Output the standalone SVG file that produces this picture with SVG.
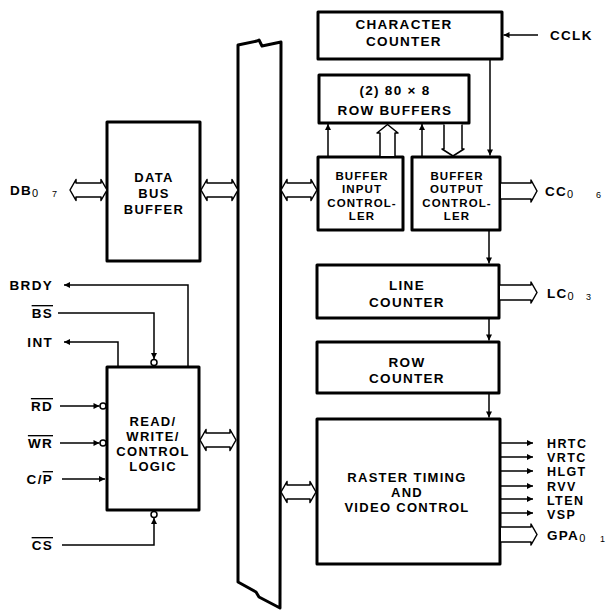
<svg xmlns="http://www.w3.org/2000/svg" width="607" height="611" viewBox="0 0 607 611">
<style>
  .box { fill: #fff; stroke: #000; stroke-width: 3; stroke-linejoin: round; }
  .ln { fill: none; stroke: #000; stroke-width: 1.5; }
  .hol { fill: #fff; stroke: #000; stroke-width: 1.5; stroke-linejoin: round; }
  .t { font-family: "Liberation Sans", Arial, sans-serif; font-weight: bold; font-size: 13.5px; letter-spacing: 1.3px; fill: #000; }
  .m { font-size: 13px; }
  .o { font-size: 12.5px; letter-spacing: 1.4px; }
  .s { font-size: 11.5px; letter-spacing: 1.1px; }
  .c { text-anchor: middle; }
  .r { text-anchor: end; }
  .sub { font-family: "Liberation Sans", Arial, sans-serif; font-weight: normal; font-size: 11px; letter-spacing: 0; fill: #000; }
  .sub2 { font-family: "Liberation Sans", Arial, sans-serif; font-size: 9px; fill: #000; }
  .ov { text-decoration: overline; }
</style>
<defs>
  <marker id="ah" viewBox="0 0 10 10" refX="10" refY="5" markerWidth="7" markerHeight="6" markerUnits="userSpaceOnUse" orient="auto">
    <path d="M0,0 L10,5 L0,10 Z" fill="#000"/>
  </marker>
</defs>

<g id="bus">
  <path d="M238,45 L257,41 L259,40 L262,46 L281,42 L280,608 L259,597 L256,592 L238,582 Z" fill="#fff" stroke="#000" stroke-width="3" stroke-linejoin="round"/>
</g>

<g id="data-bus-buffer">
  <rect class="box" x="107" y="122" width="93" height="139"/>
  <text class="t m c" x="154" y="182">DATA</text>
  <text class="t m c" x="154" y="198">BUS</text>
  <text class="t m c" x="154" y="214">BUFFER</text>
</g>

<g id="rw-control-logic">
  <rect class="box" x="107" y="367" width="92" height="143"/>
  <text class="t m c" x="153" y="426">READ/</text>
  <text class="t m c" x="153" y="441">WRITE/</text>
  <text class="t m c" x="153" y="456">CONTROL</text>
  <text class="t m c" x="153" y="471">LOGIC</text>
</g>

<g id="character-counter">
  <rect class="box" x="318" y="12" width="184" height="47"/>
  <text class="t c" x="404" y="29">CHARACTER</text>
  <text class="t c" x="404" y="46">COUNTER</text>
</g>

<g id="row-buffers">
  <rect class="box" x="319" y="75" width="150" height="48"/>
  <text class="t c" x="395" y="95">(2) 80 × 8</text>
  <text class="t c" x="395" y="115">ROW BUFFERS</text>
</g>

<g id="buffer-input-controller">
  <rect class="box" x="318" y="157" width="85" height="73"/>
  <text class="t s c" x="362" y="180">BUFFER</text>
  <text class="t s c" x="362" y="193">INPUT</text>
  <text class="t s c" x="362" y="207">CONTROL-</text>
  <text class="t s c" x="362" y="220">LER</text>
</g>

<g id="buffer-output-controller">
  <rect class="box" x="412" y="157" width="88" height="73"/>
  <text class="t s c" x="457" y="180">BUFFER</text>
  <text class="t s c" x="457" y="193">OUTPUT</text>
  <text class="t s c" x="457" y="207">CONTROL-</text>
  <text class="t s c" x="457" y="220">LER</text>
</g>

<g id="line-counter">
  <rect class="box" x="317" y="265" width="182" height="53"/>
  <text class="t c" x="407" y="290">LINE</text>
  <text class="t c" x="407" y="307">COUNTER</text>
</g>

<g id="row-counter">
  <rect class="box" x="317" y="342" width="182" height="51"/>
  <text class="t c" x="407" y="367">ROW</text>
  <text class="t c" x="407" y="383">COUNTER</text>
</g>

<g id="raster-timing">
  <rect class="box" x="317" y="419" width="183" height="145"/>
  <text class="t m c" x="407" y="482">RASTER TIMING</text>
  <text class="t m c" x="407" y="497">AND</text>
  <text class="t m c" x="407" y="512">VIDEO CONTROL</text>
</g>

<g id="labels">
  <text class="t" x="10" y="195">DB<tspan class="sub" dy="2">0</tspan></text>
  <text class="sub2" x="52" y="197">7</text>
  <text class="t r" x="53" y="290">BRDY</text>
  <text class="t r" x="53" y="318"><tspan class="ov">BS</tspan></text>
  <text class="t r" x="53" y="347">INT</text>
  <text class="t r" x="53" y="411"><tspan class="ov">RD</tspan></text>
  <text class="t r" x="53" y="448"><tspan class="ov">WR</tspan></text>
  <text class="t r" x="53" y="484">C/<tspan class="ov">P</tspan></text>
  <text class="t r" x="53" y="550"><tspan class="ov">CS</tspan></text>
  <text class="t" x="550" y="40">CCLK</text>
  <text class="t" x="545" y="196">CC<tspan class="sub" dy="2">0</tspan></text>
  <text class="sub2" x="596" y="198">6</text>
  <text class="t" x="547" y="298">LC<tspan class="sub" dy="2">0</tspan></text>
  <text class="sub2" x="586" y="300">3</text>
  <text class="t o" x="547" y="448">HRTC</text>
  <text class="t o" x="547" y="462">VRTC</text>
  <text class="t o" x="547" y="476">HLGT</text>
  <text class="t o" x="547" y="491">RVV</text>
  <text class="t o" x="547" y="505">LTEN</text>
  <text class="t o" x="547" y="519">VSP</text>
  <text class="t" x="547" y="540">GPA<tspan class="sub" dy="2">0</tspan></text>
  <text class="sub2" x="600" y="542">1</text>
</g>

<g id="connectors">
  <path class="hol" d="M70,190 L76,179.5 L76,183 L101,183 L101,179.5 L107,190 L101,200.5 L101,197 L76,197 L76,200.5 Z"/>
  <path class="hol" d="M201,190 L207,179.5 L207,183 L232,183 L232,179.5 L238,190 L232,200.5 L232,197 L207,197 L207,200.5 Z"/>
  <path class="hol" d="M281,190 L287,179.5 L287,183 L311,183 L311,179.5 L317,190 L311,200.5 L311,197 L287,197 L287,200.5 Z"/>
  <path class="hol" d="M200,440 L206,429.5 L206,433 L230,433 L230,429.5 L236,440 L230,450.5 L230,447 L206,447 L206,450.5 Z"/>
  <path class="hol" d="M281,492 L287,481.5 L287,485 L310,485 L310,481.5 L316,492 L310,502.5 L310,499 L287,499 L287,502.5 Z"/>
  <path class="hol" d="M380,156 L380,133 L377,133 L387.5,124.5 L398,133 L395,133 L395,156"/>
  <path class="hol" d="M444,124.5 L444,149 L442,149 L453,156 L464,149 L462,149 L462,124.5"/>
  <path class="hol" d="M501,183 L531,183 L531,180 L537,191 L531,202 L531,199 L501,199"/>
  <path class="hol" d="M500,285 L531,285 L531,282 L537,292.5 L531,303 L531,300 L500,300"/>
  <path class="hol" d="M501,527 L531,527 L531,524 L537,534.5 L531,545 L531,542 L501,542"/>
  <line class="ln" x1="328" y1="156" x2="328" y2="124" marker-end="url(#ah)"/>
  <line class="ln" x1="422" y1="156" x2="422" y2="124" marker-end="url(#ah)"/>
  <line class="ln" x1="538" y1="35" x2="503.5" y2="35" marker-end="url(#ah)"/>
  <line class="ln" x1="490" y1="60" x2="490" y2="155.5" marker-end="url(#ah)"/>
  <line class="ln" x1="489" y1="231" x2="489" y2="263.5" marker-end="url(#ah)"/>
  <line class="ln" x1="489" y1="319" x2="489" y2="340.5" marker-end="url(#ah)"/>
  <line class="ln" x1="489" y1="394" x2="489" y2="417.5" marker-end="url(#ah)"/>
  <line class="ln" x1="501" y1="443" x2="533" y2="443" marker-end="url(#ah)"/>
  <line class="ln" x1="501" y1="457" x2="533" y2="457" marker-end="url(#ah)"/>
  <line class="ln" x1="501" y1="471" x2="533" y2="471" marker-end="url(#ah)"/>
  <line class="ln" x1="501" y1="486" x2="533" y2="486" marker-end="url(#ah)"/>
  <line class="ln" x1="501" y1="499" x2="533" y2="499" marker-end="url(#ah)"/>
  <line class="ln" x1="501" y1="513" x2="533" y2="513" marker-end="url(#ah)"/>
  <polyline class="ln" points="188,366 188,285 64,285" marker-end="url(#ah)"/>
  <polyline class="ln" points="118,366 118,342 64,342" marker-end="url(#ah)"/>
  <polyline class="ln" points="58,313 154,313 154,359" marker-end="url(#ah)"/>
  <circle cx="154" cy="362.5" r="3" fill="#fff" stroke="#000" stroke-width="1.5"/>
  <line class="ln" x1="60" y1="406" x2="99.5" y2="406" marker-end="url(#ah)"/>
  <circle cx="103" cy="406" r="3" fill="#fff" stroke="#000" stroke-width="1.5"/>
  <line class="ln" x1="60" y1="443" x2="99.5" y2="443" marker-end="url(#ah)"/>
  <circle cx="103" cy="443" r="3" fill="#fff" stroke="#000" stroke-width="1.5"/>
  <line class="ln" x1="62" y1="479" x2="105" y2="479" marker-end="url(#ah)"/>
  <polyline class="ln" points="62,545 154,545 154,518" marker-end="url(#ah)"/>
  <circle cx="154" cy="514.5" r="3" fill="#fff" stroke="#000" stroke-width="1.5"/>
</g>
</svg>
